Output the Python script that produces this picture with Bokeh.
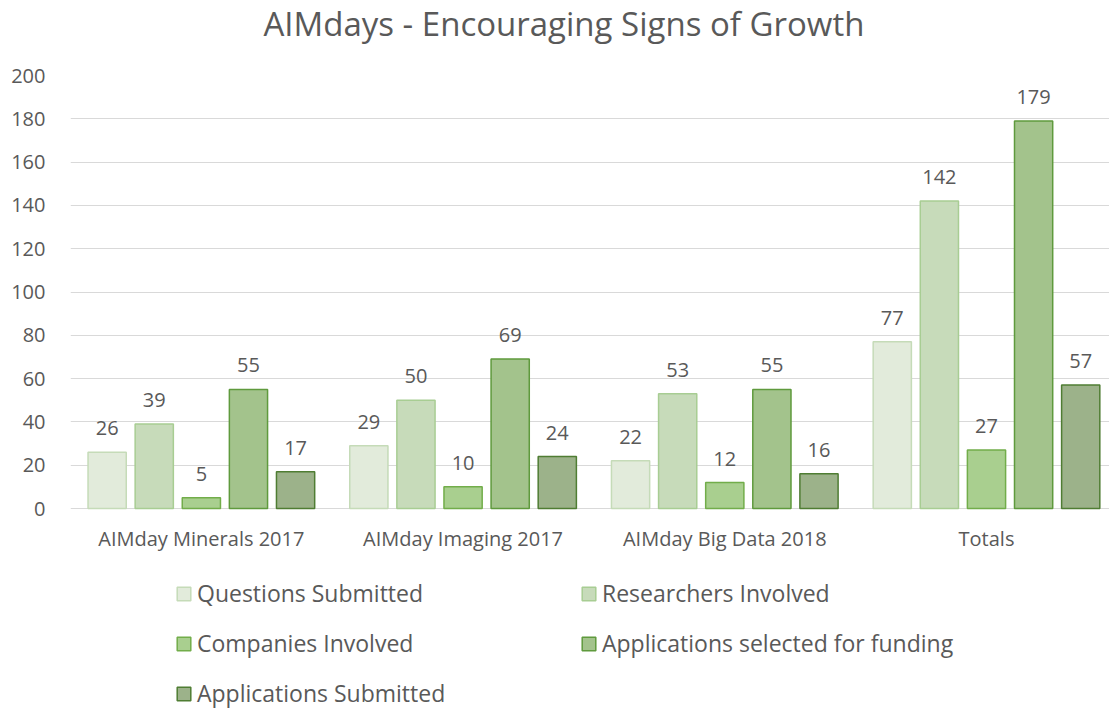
from bokeh.plotting import figure
from bokeh.models import ColumnDataSource, Range1d, FixedTicker, LabelSet, Legend, LegendItem, Title
from bokeh.core.properties import value
from bokeh.embed import file_html
from bokeh.resources import INLINE

# ---- data ----
events = ["AIMday Minerals 2017", "AIMday Imaging 2017", "AIMday Big Data 2018", "Totals"]
series_names = ["Questions Submitted", "Researchers Involved", "Companies Involved",
                "Applications selected for funding", "Applications Submitted"]
questions = [26, 29, 22, 77]
researchers = [39, 50, 53, 142]
companies = [5, 10, 12, 27]
selected = [55, 69, 55, 179]
submitted = [17, 24, 16, 57]
y_ticks = [0, 20, 40, 60, 80, 100, 120, 140, 160, 180, 200]

values = [questions, researchers, companies, selected, submitted]
fills = ["#e2ebdb", "#c7dbba", "#a9cf8f", "#a3c38c", "#9cb28a"]
lines = ["#c5dbb8", "#a8cd93", "#72ad4a", "#5f9a3d", "#4f7d33"]

FONT = "Open Sans"
TXT = "#595959"

centers = [i + 0.5 for i in range(len(events))]
step = 0.18
bar_w = 0.146

# frame runs to the bottom of the canvas; the space below 0 holds the
# category labels and the legend (no ticks/gridlines there)
y_bottom = -200 * 200 / 433.0
p = figure(width=1109, height=708, x_range=Range1d(0, 3.97), y_range=Range1d(y_bottom, 200),
           output_backend="svg", toolbar_location=None,
           min_border_left=70, min_border_right=0, min_border_top=0, min_border_bottom=0)

# spacer between title and frame
p.add_layout(Title(text=" ", text_font_size="1px", standoff=25), "above")
p.title.text = "AIMdays - Encouraging Signs of Growth"
p.title.align = "left"
p.title.vertical_align = "top"
p.title.offset = 193
p.title.text_font = FONT
p.title.text_font_size = "33px"
p.title.text_font_style = "normal"
p.title.text_color = TXT
p.title.standoff = 0

items = []
for k, (name, vals) in enumerate(zip(series_names, values)):
    off = (k - 2) * step
    src = ColumnDataSource(dict(x=[c + off for c in centers], top=vals,
                                label=[str(v) for v in vals]))
    r = p.vbar(x="x", top="top", width=bar_w, bottom=0, source=src,
               fill_color=fills[k], line_color=lines[k], line_width=1.5)
    items.append(LegendItem(label=name, renderers=[r]))
    p.add_layout(LabelSet(x="x", y="top", text="label", source=src, y_offset=17,
                          text_align="center", text_baseline="bottom",
                          text_font=value(FONT), text_font_size="20px", text_color=TXT))

# category labels under the zero line
cat_src = ColumnDataSource(dict(x=centers, y=[0] * len(events), label=events))
p.add_layout(LabelSet(x="x", y="y", text="label", source=cat_src, y_offset=-30,
                      text_align="center", text_baseline="middle",
                      text_font=value(FONT), text_font_size="20px", text_color=TXT))

p.outline_line_color = None
p.xgrid.grid_line_color = None
p.ygrid.grid_line_color = "#d9d9d9"
p.ygrid.grid_line_width = 1.2
p.xaxis.visible = False

p.yaxis.ticker = FixedTicker(ticks=y_ticks)
p.yaxis.axis_line_color = None
p.yaxis.major_tick_line_color = None
p.yaxis.minor_tick_line_color = None
p.yaxis.major_label_standoff = 19
p.yaxis.major_label_text_font = FONT
p.yaxis.major_label_text_font_size = "20px"
p.yaxis.major_label_text_color = TXT

legend = Legend(items=items, orientation="horizontal", ncols=2,
                location=(105, -1), border_line_color=None, background_fill_alpha=0,
                label_text_font=FONT, label_text_font_size="23px", label_text_color=TXT,
                glyph_width=17, glyph_height=17, label_standoff=5, spacing=18,
                label_width=365, padding=0, margin=0)
p.add_layout(legend, "center")

open("out.html", "w").write(file_html(p, INLINE))
